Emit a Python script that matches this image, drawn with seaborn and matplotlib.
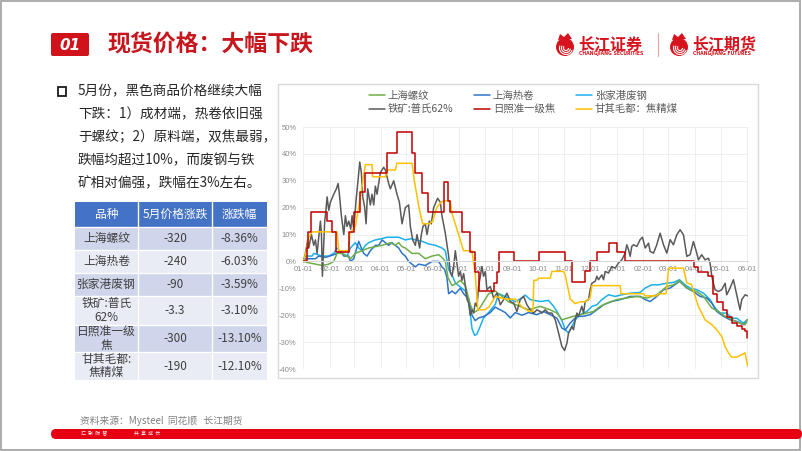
import matplotlib
matplotlib.use("Agg")
import matplotlib.pyplot as plt
import matplotlib.dates as mdates
from matplotlib.patches import Rectangle, FancyBboxPatch, Circle, Arc, Polygon
from matplotlib.ticker import FuncFormatter, MultipleLocator
import pandas as pd
import seaborn as sns

# ---------------- data (days since 2023-01-01, % change) ----------------
rebar_days = [0, 6.2, 14.0, 21.7, 29.5, 35.3, 39.2, 45.0, 50.8, 54.7,
              60.5, 68.3, 76.1, 83.8, 91.6, 101.3, 107.1, 111.0, 114.9, 118.7,
              126.5, 134.3, 142.0, 149.8, 157.5, 161.4, 165.3, 168.4, 173.1, 178.9,
              182.8, 188.6, 194.4, 198.3, 204.1, 209.9, 215.8, 223.5, 231.3, 239.0,
              246.8, 254.6, 262.3, 275.9, 287.6, 295.4, 301.2, 307.0, 314.7, 322.5,
              330.3, 338.0, 345.8, 353.5, 365.2, 376.8, 388.5, 400.1, 411.8, 423.4,
              431.2, 438.1, 444.7, 450.6, 458.3, 466.1, 475.8, 483.5, 491.3, 497.1,
              503.0, 508.8, 514.6, 517.3]
rebar_vals = [0, -0.5, -1, -1.5, -1, 0, 3, 3, 2, 1,
              3, 4, 5, 5.5, 6, 7, 6, 7, 5.5, 5,
              3, 3, 1, 2, 2.5, 1.5, 0, -6, -9, -8,
              -7, -9, -16, -19, -18, -15, -12, -11, -13, -15,
              -16, -17, -18, -16.7, -18, -19.2, -21.7, -21.1, -20.4, -19.8,
              -19.2, -18.6, -16.7, -15.5, -14.2, -13.6, -13, -13.6, -12.4, -9.3,
              -8.7, -7.1, -9.3, -10.5, -11.2, -13, -17.3, -18.6, -20.4, -21.1,
              -22.3, -23, -23.5, -21.6]

hrc_days = [0, 2.3, 14.0, 17.9, 25.6, 35.3, 39.2, 43.1, 47.0, 52.8,
            54.7, 58.6, 64.4, 67.5, 70.2, 74.1, 78.0, 83.8, 87.7, 91.6,
            95.5, 99.3, 103.2, 111.0, 114.9, 118.7, 122.6, 126.5, 130.4, 134.3,
            142.0, 149.8, 157.5, 161.4, 164.5, 167.2, 169.2, 173.1, 177.0, 182.8,
            186.7, 192.5, 196.4, 200.2, 204.1, 209.9, 217.7, 223.5, 229.3, 235.2,
            241.0, 246.8, 254.6, 262.3, 272.0, 279.8, 287.6, 295.4, 301.2, 305.0,
            310.9, 318.6, 326.4, 334.1, 341.9, 349.7, 359.4, 369.1, 380.7, 392.4,
            398.2, 404.0, 411.8, 419.5, 427.3, 438.1, 446.7, 454.4, 462.2, 470.0,
            475.8, 481.6, 489.4, 497.1, 504.9, 512.6, 516.5]
hrc_vals = [0, 1, 1, 2, 1.5, 2.5, 3, 4, 2, 2,
            0, 1, 7.5, 5, 3, 2, 4, 6, 6, 8,
            7, 6, 7, 5, 3, 2, 0, -1, -2, -1,
            -1.5, 0, 0, -2, -3, -6, -12, -11, -12, -10,
            -12, -14, -20, -22, -21, -20.5, -19, -17, -18, -19,
            -21, -19, -20, -19, -19.8, -18.6, -19.8, -21.1, -24.8, -25.5,
            -22.9, -20.4, -20.4, -19.8, -18, -16.1, -14.9, -14.2, -13, -13,
            -14.2, -14.9, -13, -10.5, -9.9, -7.4, -9.9, -11.2, -13, -13.6,
            -15.5, -18.6, -20.4, -21.7, -22.3, -23.5, -22.6]

scrap_days = [0, 2.3, 10.1, 12.0, 21.7, 29.5, 35.3, 39.2, 45.0, 50.8,
              54.7, 60.5, 64.4, 68.3, 72.2, 76.1, 83.8, 91.6, 97.4, 111.0,
              114.9, 118.7, 126.5, 130.4, 138.1, 145.9, 153.7, 161.4, 165.3, 169.2,
              173.1, 177.0, 184.7, 188.6, 192.5, 196.4, 199.5, 202.2, 206.1, 209.9,
              215.8, 223.5, 227.4, 235.2, 246.8, 254.6, 258.4, 264.3, 275.9, 285.6,
              291.5, 295.4, 301.2, 305.0, 309.0, 312.8, 316.7, 322.5, 330.3, 336.1,
              341.9, 347.7, 355.5, 363.3, 371.0, 380.7, 392.4, 398.2, 405.9, 413.7,
              423.4, 431.2, 438.1, 444.7, 450.6, 458.3, 466.1, 473.8, 479.6, 485.5,
              493.2, 499.1, 504.9, 512.6, 516.5]
scrap_vals = [0, 2, 2, 3, 2, 2, 3, 5, 3, 2,
              5, 7, 5, 4, 6, 7, 8, 8.5, 9, 9,
              8.5, 8, 8.5, 8, 7.5, 6.5, 6, 5, 4, -3,
              -5, -8, -10, -11, -14, -25, -27.5, -27, -24, -21,
              -19, -16, -12, -13, -15, -13.5, -12.5, -14.2, -14.9, -14.5,
              -16.7, -18.6, -22, -25.4, -26.6, -24.2, -21.7, -19.8, -18.6, -16.7,
              -16.1, -14.2, -12.4, -13, -12.4, -11.8, -11.5, -9.9, -8.7, -8.7,
              -8.1, -7.8, -6.8, -8.7, -9.9, -10.5, -11.8, -14.2, -17.3, -19.2,
              -19.2, -21.1, -21.1, -23, -21.8]

ore_days = [0, 2.3, 5.0, 6.2, 9.3, 12.0, 14.0, 15.9, 19.8, 21.0,
            22.1, 24.8, 25.6, 27.6, 29.5, 31.4, 35.3, 38.4, 40.4, 41.9,
            44.2, 47.0, 48.9, 50.8, 52.8, 55.1, 56.7, 58.6, 61.7, 63.6,
            65.6, 67.5, 69.1, 71.4, 73.0, 74.9, 78.0, 79.9, 81.9, 83.8,
            85.8, 89.6, 93.5, 95.5, 99.3, 101.3, 105.2, 109.0, 111.8, 114.9,
            118.7, 122.6, 124.6, 127.3, 130.4, 132.3, 135.4, 137.4, 139.3, 142.0,
            144.0, 146.7, 149.0, 151.7, 156.4, 159.5, 161.4, 165.3, 169.2, 171.1,
            173.1, 175.0, 177.0, 178.9, 180.8, 182.8, 184.7, 186.7, 188.6, 190.5,
            192.5, 194.4, 196.4, 198.3, 200.2, 202.2, 204.1, 206.1, 208.0, 209.9,
            211.9, 213.8, 217.7, 221.6, 225.5, 229.4, 233.2, 237.1, 241.0, 244.9,
            248.8, 252.6, 256.5, 260.4, 264.3, 268.2, 272.0, 275.9, 277.9, 281.7,
            285.6, 289.5, 293.4, 297.3, 301.1, 304.3, 307.0, 308.9, 312.8, 314.7,
            316.7, 318.6, 320.5, 324.4, 326.4, 328.3, 332.2, 334.1, 336.1, 339.9,
            341.9, 343.8, 347.7, 349.7, 351.6, 355.5, 359.4, 363.2, 367.1, 371.0,
            374.9, 376.8, 378.8, 380.7, 382.6, 384.6, 388.5, 392.3, 395.1, 398.2,
            402.1, 404.0, 407.9, 411.7, 415.6, 419.5, 423.4, 427.3, 431.1, 435.0,
            438.9, 442.8, 446.7, 450.5, 454.4, 458.3, 460.2, 464.1, 468.0, 471.9,
            473.8, 475.8, 477.7, 479.6, 483.5, 487.4, 491.3, 493.2, 497.1, 501.0,
            504.9, 508.7, 510.7, 514.6, 517.5]
ore_vals = [0, 3, 8, 5, 10, 6, 8, 3, 15, 10,
            -5.5, 15, 17, 24, 19, 22, 25, 27, 29, 25,
            17, 10, 17, 13, 15, 12, 17, 12, 24, 30,
            37, 33, 24, 20, 14, 27, 21, 25, 21, 28,
            25, 33, 35, 34, 29, 27, 30, 25, 22, 14,
            20, 21, 13, 8, 6, 10, 5, 10, 13, 14,
            10, 15, 14, 20, 23.5, 22, 17, 10.5, 2, -4,
            -5.5, -2, 4, -0.6, -5.5, -3.7, -7, -4.5, -9, -14,
            -15.5, -20, -18, -19.2, -15.5, -16.7, -9.3, -5.5, -1.9, -5.5,
            -3.7, -10.5, -9.3, -13.6, -11.8, -16.1, -14.2, -11.8, -14.9, -15.5,
            -18.6, -14.2, -13, -16.1, -18, -19.2, -18, -18.6, -19.2, -18,
            -19.2, -19.2, -21.7, -26.6, -31.6, -33.1, -30.4, -26.6, -24.2, -25.4,
            -21.7, -19.2, -20.4, -16.7, -19.2, -14.9, -14.2, -10.5, -8.1, -7.4,
            -5.5, -6.8, -5, -6.8, -3.7, -4.3, -1.9, -2.5, -0.6, 0.6,
            3.1, 6.2, 4.3, 1.9, 5.6, 6.2, 5.6, 8.1, 9.0, 5,
            6.8, 3.7, 3.1, 6.2, 10.5, 6.2, 3.1, 8.1, 6.2, 9.9,
            11.8, 9.9, 1.9, 2.5, 7.4, 3.1, 0.6, 2.5, 0.6, 1.2,
            -0.6, -5.5, -8.1, -10.5, -11.2, -10.5, -8.1, -12.4, -9.9, -6.8,
            -12.4, -18, -14.2, -12.4, -12.8]

coke_days = [0, 4.3, 5.0, 8.9, 27.6, 33.4, 38.4, 53.6, 58.6, 66.4,
             72.2, 97.4, 109.0, 126.5, 130.4, 138.1, 145.1, 163.4, 168.0, 171.1,
             184.7, 194.4, 200.2, 204.1, 221.6, 225.5, 227.4, 244.9, 274.0, 305.0,
             312.8, 328.3, 334.1, 341.9, 355.5, 365.2, 374.9, 455.6, 460.2, 471.9,
             477.7, 481.6, 489.4, 493.2, 499.0, 504.9, 510.7, 514.6, 517.0]
coke_vals = [0, 5, 11, 18.5, 15, 11, 3.5, 11, 18.5, 26,
             33, 40.5, 48, 40.5, 33, 25.5, 18.5, 29.5, 22.5, 18.5,
             11, 3.5, -4, -11, -8, -4, 3.5, 0, 3.5, 0,
             -7.5, -3.7, 0, 3.5, 7, 3.5, 0, -2, -4, -5.5,
             -12, -15, -18, -20.5, -23, -24, -25, -26, -28.5]

coal_days = [0, 4.3, 6.2, 10.1, 39.2, 41.1, 52.4, 54.3, 60.5, 66.4,
             72.2, 80.0, 80.5, 95.6, 97.5, 107.1, 109.0, 126.5, 129.2, 134.7,
             138.9, 146.7, 150.6, 155.3, 160.3, 163.4, 171.1, 173.0, 178.8, 182.7,
             186.6, 196.3, 200.2, 203.3, 211.0, 216.0, 219.8, 223.7, 235.3, 246.9,
             254.7, 262.4, 267.4, 268.5, 272.0, 274.0, 287.6, 289.5, 303.1, 305.0,
             310.9, 316.7, 322.5, 328.3, 334.1, 336.1, 369.1, 369.9, 396.2, 398.2,
             411.8, 413.7, 422.6, 425.5, 442.8, 446.7, 452.0, 456.4, 460.2, 468.0,
             475.8, 481.6, 487.4, 491.3, 495.2, 499.0, 504.9, 510.7, 514.6, 517.5]
coal_vals = [0, 5, 9, 11, 11, 4, 4, 10.5, 13, 24,
             36, 36, 31.5, 31.5, 34, 34, 36.5, 36.5, 30, 20,
             14, 14, 15, 20, 22, 22.5, 22.5, 18, 12, 8,
             4, 4, -5, -18, -18, -17, -15, -13, -14, -14,
             -17, -18.5, -18.5, -7, -7, -6.2, -6.2, -3.7, -3.7, -5,
             -14, -15.7, -15, -15, -13.5, -9, -9, -12, -12, -12.8,
             -12.8, -12, -12, -2.5, -2.5, -8, -8.5, -13, -16.7, -21.7,
             -23.5, -25.4, -27.9, -31.6, -34, -35.6, -35.6, -34.7, -34, -38.8]

series_names = ["上海螺纹", "上海热卷", "张家港废钢", "铁矿:普氏62%", "日照准一级焦", "甘其毛都：焦精煤"]
series_colors = ["#70AD47", "#2E75C8", "#1CB0EE", "#5A5A5A", "#C00000", "#FFC000"]

table_header = ["品种", "5月价格涨跌", "涨跌幅"]
table_names = ["上海螺纹", "上海热卷", "张家港废钢", "铁矿:普氏\n62%", "日照准一级\n焦", "甘其毛都:\n焦精煤"]
table_change = ["-320", "-240", "-90", "-3.3", "-300", "-190"]
table_pct = ["-8.36%", "-6.03%", "-3.59%", "-3.10%", "-13.10%", "-12.10%"]

bullet_lines = ["5月份，黑色商品价格继续大幅",
                "下跌：1）成材端，热卷依旧强",
                "于螺纹；2）原料端，双焦最弱，",
                "跌幅均超过10%，而废钢与铁",
                "矿相对偏强，跌幅在3%左右。"]

# ---------------- styling ----------------
sns.set_theme(style="white")
plt.rcParams["font.family"] = ["Noto Sans CJK SC", "DejaVu Sans"]
plt.rcParams["axes.unicode_minus"] = False

START = pd.Timestamp("2023-01-01")


def frame(days, vals, name):
    return pd.DataFrame({"date": START + pd.to_timedelta(days, unit="D"),
                         "value": vals, "series": name})


data = {
    "上海螺纹": frame(rebar_days, rebar_vals, "上海螺纹"),
    "上海热卷": frame(hrc_days, hrc_vals, "上海热卷"),
    "张家港废钢": frame(scrap_days, scrap_vals, "张家港废钢"),
    "铁矿:普氏62%": frame(ore_days, ore_vals, "铁矿:普氏62%"),
    "日照准一级焦": frame(coke_days, coke_vals, "日照准一级焦"),
    "甘其毛都：焦精煤": frame(coal_days, coal_vals, "甘其毛都：焦精煤"),
}
color_map = dict(zip(series_names, series_colors))

W, H = 802, 451
fig = plt.figure(figsize=(W / 100, H / 100), dpi=100)
fig.patch.set_facecolor("white")

bg = fig.add_axes([0, 0, 1, 1], zorder=0)
bg.set_xlim(0, W)
bg.set_ylim(H, 0)
bg.axis("off")

# slide frame
bg.add_patch(Rectangle((0.6, 0.6), 799.5, 449, fill=False, ec="#A6A6A6", lw=1.3))

# header
bg.add_patch(FancyBboxPatch((51, 33), 38, 23, boxstyle="round,pad=0,rounding_size=2",
                            fc="#D0121B", ec="none"))
bg.text(70, 45, "01", color="white", fontsize=11, fontweight="bold", fontstyle="italic",
        ha="center", va="center", family=["DejaVu Sans"])
bg.text(107, 45, "现货价格：大幅下跌", color="#C8161D", fontsize=16.5, fontweight="bold",
        ha="left", va="center")


def emblem(cx, cy):
    bg.add_patch(Circle((cx, cy + 2), 9, fc="#D7141E", ec="none"))
    for r, t1, t2 in [(6.5, 20, 200), (4.5, 10, 210), (2.5, 0, 220)]:
        bg.add_patch(Arc((cx + 1, cy + 3), 2 * r, 2 * r, theta1=t1, theta2=t2,
                         color="white", lw=0.8))
    bg.add_patch(Polygon([(cx - 7, cy - 5), (cx - 5, cy - 11), (cx - 1, cy - 8),
                          (cx + 3, cy - 12), (cx + 7, cy - 6)], fc="#D7141E", ec="none"))


emblem(565, 45)
bg.text(578, 44, "长江证券", color="#D7141E", fontsize=11.5, fontweight="bold", ha="left", va="center")
bg.text(579, 53.5, "CHANGJIANG SECURITIES", color="#D7141E", fontsize=3.3, fontweight="bold",
        ha="left", va="center", family=["DejaVu Sans"])
bg.plot([658, 658], [33, 56], color="#E7A3A3", lw=0.8)
emblem(679, 45)
bg.text(692, 44, "长江期货", color="#D7141E", fontsize=11.5, fontweight="bold", ha="left", va="center")
bg.text(693, 53.5, "CHANGJIANG FUTURES", color="#D7141E", fontsize=3.3, fontweight="bold",
        ha="left", va="center", family=["DejaVu Sans"])

# bullet text
bg.add_patch(Rectangle((57.5, 87), 8.5, 8.5, fill=False, ec="#1A1A1A", lw=1.3))
for i, line in enumerate(bullet_lines):
    bg.text(78, 91 + i * 23, line, fontsize=9.8, color="#262626", ha="left", va="center")

# table
col_x = [75, 138, 212, 267]
row_y = [202, 227, 250, 273, 296, 325, 352, 380]
bg.add_patch(Rectangle((col_x[0], row_y[0]), col_x[-1] - col_x[0], row_y[1] - row_y[0],
                       fc="#4472C4", ec="none"))
for j, txt in enumerate(table_header):
    bg.text((col_x[j] + col_x[j + 1]) / 2, (row_y[0] + row_y[1]) / 2, txt, color="white",
            fontsize=8.5, ha="center", va="center")
for i in range(len(table_names)):
    y0, y1 = row_y[i + 1], row_y[i + 2]
    bg.add_patch(Rectangle((col_x[0], y0), col_x[-1] - col_x[0], y1 - y0,
                           fc="#CFD5EA" if i % 2 == 0 else "#E9EBF5", ec="none"))
    for j, txt in enumerate([table_names[i], table_change[i], table_pct[i]]):
        bg.text((col_x[j] + col_x[j + 1]) / 2, (y0 + y1) / 2, txt, color="#404040",
                fontsize=8.5, ha="center", va="center", linespacing=1.05)
for xx in col_x[1:-1]:
    bg.plot([xx, xx], [row_y[0], row_y[-1]], color="white", lw=1)
for yy in row_y[1:-1]:
    bg.plot([col_x[0], col_x[-1]], [yy, yy], color="white", lw=1)

# chart box
bg.add_patch(Rectangle((278, 84), 480, 294, fill=False, ec="#D9D9D9", lw=1))

# footer
bg.text(80, 421, "资料来源：Mysteel  同花顺   长江期货", fontsize=7, color="#808080",
        ha="left", va="center")
bg.add_patch(FancyBboxPatch((51, 429), 751, 10, boxstyle="round,pad=0,rounding_size=5",
                            fc="#E60012", ec="none"))
bg.text(81, 434, "汇  聚  财  智", fontsize=3.5, color="white", ha="left", va="center")
bg.text(134, 434, "共  享  成  长", fontsize=3.5, color="white", ha="left", va="center")

# ---------------- chart ----------------
ax = fig.add_axes([303 / W, 1 - 369 / H, 445 / W, 242 / H], zorder=2)
ax.patch.set_alpha(0)

handles = {}
for name in ["张家港废钢", "上海热卷", "上海螺纹", "铁矿:普氏62%", "甘其毛都：焦精煤", "日照准一级焦"]:
    kw = {"drawstyle": "steps-post"} if name == "日照准一级焦" else {}
    sns.lineplot(data=data[name], x="date", y="value", ax=ax, color=color_map[name],
                 linewidth=1.1, estimator=None, legend=False, **kw)
    handles[name] = ax.lines[-1]

ax.set_xlim(START - pd.Timedelta(days=0.5), pd.Timestamp("2024-06-01") + pd.Timedelta(days=1))
ax.set_ylim(-40, 50)
ax.yaxis.set_major_locator(MultipleLocator(10))
ax.yaxis.set_major_formatter(FuncFormatter(lambda v, p: f"{int(round(v))}%"))
ax.xaxis.set_major_locator(mdates.MonthLocator(bymonthday=1))
ax.xaxis.set_major_formatter(mdates.DateFormatter("%m-%d"))
ax.set_xlabel("")
ax.set_ylabel("")
for s in ["top", "right", "left"]:
    ax.spines[s].set_visible(False)
ax.spines["bottom"].set_position(("data", 0))
ax.spines["bottom"].set_color("#D9D9D9")
ax.spines["bottom"].set_linewidth(0.8)
ax.grid(True, color="#EDEDED", linewidth=0.6)
ax.set_axisbelow(True)
ax.tick_params(axis="both", length=0, labelsize=5.5, labelcolor="#8C8C8C")
ax.tick_params(axis="x", pad=3)
ax.tick_params(axis="y", pad=4.5)
for lab in ax.get_xticklabels() + ax.get_yticklabels():
    lab.set_family(["Liberation Sans", "DejaVu Sans"])

order = ["上海螺纹", "铁矿:普氏62%", "上海热卷", "日照准一级焦", "张家港废钢", "甘其毛都：焦精煤"]
leg = ax.legend([handles[n] for n in order], order, ncol=3, loc="upper left",
                bbox_to_anchor=(369 / W, 1 - 91 / H), bbox_transform=fig.transFigure,
                frameon=False, fontsize=7.5, handlelength=1.5, handletextpad=0.3,
                columnspacing=2.0, labelspacing=0.3, borderaxespad=0, borderpad=0)
for t in leg.get_texts():
    t.set_color("#595959")

fig.savefig("out.png", dpi=100, facecolor="white")
